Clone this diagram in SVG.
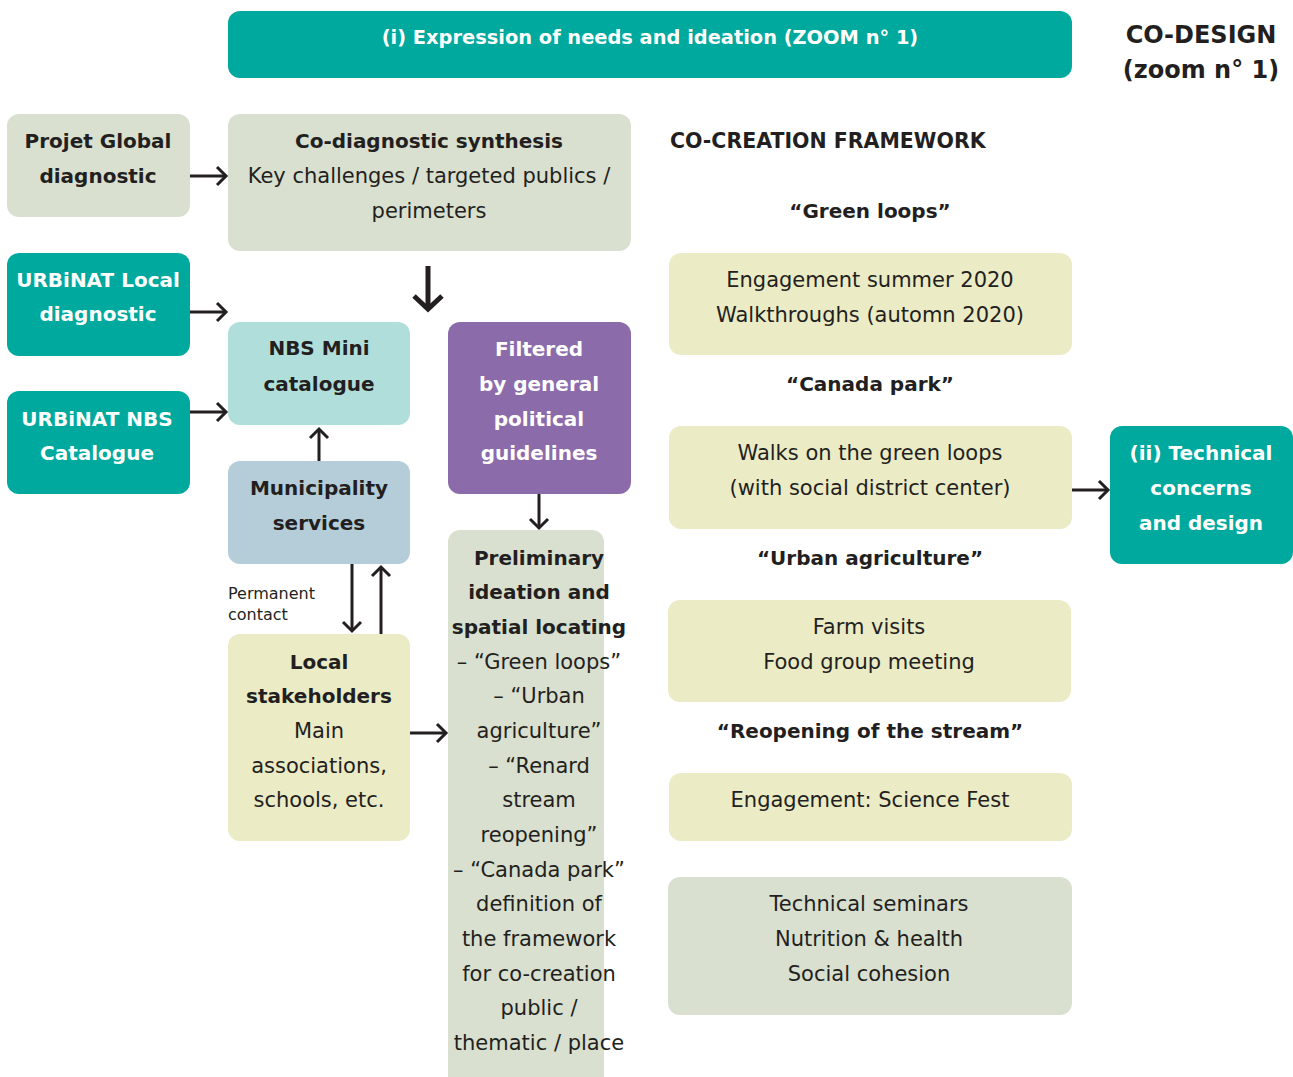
<svg xmlns="http://www.w3.org/2000/svg" width="1293" height="1077" viewBox="0 0 1293 1077">
<style>
text{font-family:"DejaVu Sans","Noto Sans",sans-serif;font-size:21px;fill:#231f20;text-anchor:middle}
.b{font-weight:bold;font-size:20px}
.w{fill:#ffffff;font-weight:bold;font-size:20px}
.teal{fill:#00a99d}
.sage{fill:#d9e0cf}
.cream{fill:#ebebc6}
.mint{fill:#b0dfdb}
.blue{fill:#b4cdd9}
.purple{fill:#8c6bab}
.con{stroke:#231f20;stroke-width:3;fill:none}
</style>
<defs>
<marker id="ah" viewBox="-12 -12 24 24" markerWidth="24" markerHeight="24" markerUnits="userSpaceOnUse" orient="auto" refX="0" refY="0">
<path d="M-9,-9 L0,0 L-9,9" fill="none" stroke="#231f20" stroke-width="3"/>
</marker>
<marker id="ahb" viewBox="-16 -16 32 32" markerWidth="32" markerHeight="32" markerUnits="userSpaceOnUse" orient="auto" refX="0" refY="0">
<path d="M-13,-14 L0,0 L-13,14" fill="none" stroke="#231f20" stroke-width="5"/>
</marker>
</defs>
<rect width="1293" height="1077" fill="#ffffff"/>

<g id="top-bar">
<rect x="228" y="11" width="844" height="67" rx="12" class="teal"/>
<text x="650" y="44" class="w" style="font-size:19.4px">(i) Expression of needs and ideation (ZOOM n° 1)</text>
</g>
<g id="co-design-title">
<text x="1201" y="43" class="b" style="font-size:24px">CO-DESIGN</text>
<text x="1201" y="78" class="b" style="font-size:24px">(zoom n° 1)</text>
</g>

<g id="projet-global">
<rect x="7" y="114" width="183" height="103" rx="12" class="sage"/>
<text x="98" y="148" class="b">Projet Global</text>
<text x="98" y="183" class="b">diagnostic</text>
</g>
<g id="co-diagnostic">
<rect x="228" y="114" width="403" height="137" rx="12" class="sage"/>
<text x="429" y="148" class="b">Co-diagnostic synthesis</text>
<text x="429" y="183">Key challenges / targeted publics /</text>
<text x="429" y="218">perimeters</text>
</g>
<g id="urbinat-local">
<rect x="7" y="253" width="183" height="103" rx="12" class="teal"/>
<text x="98" y="287" class="w">URBiNAT Local</text>
<text x="98" y="321" class="w">diagnostic</text>
</g>
<g id="urbinat-nbs">
<rect x="7" y="391" width="183" height="103" rx="12" class="teal"/>
<text x="97" y="426" class="w">URBiNAT NBS</text>
<text x="97" y="460" class="w">Catalogue</text>
</g>
<g id="nbs-mini">
<rect x="228" y="322" width="182" height="103" rx="12" class="mint"/>
<text x="319" y="355" class="b">NBS Mini</text>
<text x="319" y="391" class="b">catalogue</text>
</g>
<g id="municipality">
<rect x="228" y="461" width="182" height="103" rx="12" class="blue"/>
<text x="319" y="495" class="b">Municipality</text>
<text x="319" y="530" class="b">services</text>
</g>
<g id="permanent-contact">
<text x="228" y="599" style="font-size:16px;text-anchor:start">Permanent</text>
<text x="228" y="620" style="font-size:16px;text-anchor:start">contact</text>
</g>
<g id="local-stakeholders">
<rect x="228" y="634" width="182" height="207" rx="12" class="cream"/>
<text x="319" y="669" class="b">Local</text>
<text x="319" y="703" class="b">stakeholders</text>
<text x="319" y="738">Main</text>
<text x="319" y="773">associations,</text>
<text x="319" y="807">schools, etc.</text>
</g>
<g id="filtered">
<rect x="448" y="322" width="183" height="172" rx="12" class="purple"/>
<text x="539" y="356" class="w">Filtered</text>
<text x="539" y="391" class="w">by general</text>
<text x="539" y="426" class="w">political</text>
<text x="539" y="460" class="w">guidelines</text>
</g>
<g id="preliminary">
<path d="M460,530 H592 A12,12 0 0 1 604,542 V1077 H448 V542 A12,12 0 0 1 460,530 Z" class="sage"/>
<text x="539" y="565" class="b">Preliminary</text>
<text x="539" y="599" class="b">ideation and</text>
<text x="539" y="634" class="b">spatial locating</text>
<text x="539" y="669">– “Green loops”</text>
<text x="539" y="703">– “Urban</text>
<text x="539" y="738">agriculture”</text>
<text x="539" y="773">– “Renard</text>
<text x="539" y="807">stream</text>
<text x="539" y="842">reopening”</text>
<text x="539" y="877">– “Canada park”</text>
<text x="539" y="911">definition of</text>
<text x="539" y="946">the framework</text>
<text x="539" y="981">for co-creation</text>
<text x="539" y="1015">public /</text>
<text x="539" y="1050">thematic / place</text>
</g>
<g id="co-creation-framework">
<text x="670" y="148" class="b" style="text-anchor:start;font-size:20.5px">CO-CREATION FRAMEWORK</text>
<text x="870" y="218" class="b">“Green loops”</text>
<text x="870" y="391" class="b">“Canada park”</text>
<text x="870" y="565" class="b">“Urban agriculture”</text>
<text x="870" y="738" class="b">“Reopening of the stream”</text>
</g>
<g id="green-loops-box">
<rect x="669" y="253" width="403" height="102" rx="12" class="cream"/>
<text x="870" y="287">Engagement summer 2020</text>
<text x="870" y="322">Walkthroughs (automn 2020)</text>
</g>
<g id="canada-park-box">
<rect x="669" y="426" width="403" height="103" rx="12" class="cream"/>
<text x="870" y="460">Walks on the green loops</text>
<text x="870" y="495">(with social district center)</text>
</g>
<g id="urban-agriculture-box">
<rect x="668" y="600" width="403" height="102" rx="12" class="cream"/>
<text x="869" y="634">Farm visits</text>
<text x="869" y="669">Food group meeting</text>
</g>
<g id="stream-box">
<rect x="669" y="773" width="403" height="68" rx="12" class="cream"/>
<text x="870" y="807">Engagement: Science Fest</text>
</g>
<g id="seminars-box">
<rect x="668" y="877" width="404" height="138" rx="12" class="sage"/>
<text x="869" y="911">Technical seminars</text>
<text x="869" y="946">Nutrition &amp; health</text>
<text x="869" y="981">Social cohesion</text>
</g>
<g id="technical">
<rect x="1110" y="426" width="183" height="138" rx="12" class="teal"/>
<text x="1201" y="460" class="w">(ii) Technical</text>
<text x="1201" y="495" class="w">concerns</text>
<text x="1201" y="530" class="w">and design</text>
</g>

<g id="connectors">
<line x1="190" y1="176" x2="226" y2="176" class="con" marker-end="url(#ah)"/>
<line x1="190" y1="312" x2="226" y2="312" class="con" marker-end="url(#ah)"/>
<line x1="190" y1="412" x2="226" y2="412" class="con" marker-end="url(#ah)"/>
<line x1="428" y1="266" x2="428" y2="309" class="con" style="stroke-width:5" marker-end="url(#ahb)"/>
<line x1="319" y1="461" x2="319" y2="429" class="con" marker-end="url(#ah)"/>
<line x1="352" y1="564" x2="352" y2="631" class="con" marker-end="url(#ah)"/>
<line x1="381" y1="634" x2="381" y2="567" class="con" marker-end="url(#ah)"/>
<line x1="410" y1="733" x2="446" y2="733" class="con" marker-end="url(#ah)"/>
<line x1="539" y1="494" x2="539" y2="528" class="con" marker-end="url(#ah)"/>
<line x1="1072" y1="490" x2="1108" y2="490" class="con" marker-end="url(#ah)"/>
</g>
</svg>
